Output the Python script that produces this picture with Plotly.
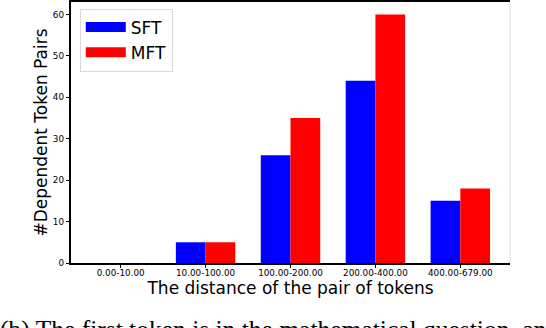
import plotly.graph_objects as go

bins = ["0.00-10.00", "10.00-100.00", "100.00-200.00", "200.00-400.00", "400.00-679.00"]
sft = [0, 5, 26, 44, 15]
mft = [0, 5, 35, 60, 18]
colors = {"SFT": "#0000ff", "MFT": "#ff0000"}

fig = go.Figure()
for name, vals in [("SFT", sft), ("MFT", mft)]:
    fig.add_trace(go.Bar(x=bins, y=vals, name=name, marker_color=colors[name],
                         marker_line_width=0, showlegend=False))
    # wide flat patch in the legend, like matplotlib
    fig.add_trace(go.Scatter(x=[None], y=[None], mode="lines", name=name,
                             line=dict(color=colors[name], width=13)))

fig.update_layout(
    width=546, height=328,
    margin=dict(l=71, r=36, t=2, b=65),
    paper_bgcolor="white", plot_bgcolor="white",
    barmode="group", bargap=0.3, bargroupgap=0,
    font=dict(family="DejaVu Sans", color="black"),
    legend=dict(x=0.02, y=0.975, xanchor="left", yanchor="top",
                bgcolor="white", bordercolor="#d9d9d9", borderwidth=1,
                font=dict(size=17), itemwidth=40, tracegroupgap=4),
)
fig.update_xaxes(
    automargin=False,
    showline=True, linecolor="black", linewidth=1.5, mirror=True,
    ticks="outside", ticklen=3.5, tickcolor="black", tickfont=dict(size=8.8),
    ticklabelstandoff=-3,
    range=[-0.585, 4.585],
    title=dict(text="The distance of the pair of tokens", font=dict(size=17), standoff=0),
)
fig.update_yaxes(
    automargin=False,
    showline=True, linecolor="black", linewidth=1.5,
    ticks="outside", ticklen=3.5, tickcolor="black", tickfont=dict(size=8.8),
    range=[0, 63], tickvals=[0, 10, 20, 30, 40, 50, 60], showgrid=False, zeroline=False,
    title=dict(text="#Dependent Token Pairs", font=dict(size=17), standoff=1),
)
fig.add_shape(type="line", xref="paper", yref="paper", x0=1, x1=1, y0=0, y1=1,
              line=dict(color="#eeeeee", width=2))
fig.add_annotation(text="(b) The first token is in the mathematical question, and the",
                   xref="paper", yref="paper", x=-73/439, y=-0.19, xanchor="left", yanchor="top",
                   showarrow=False, font=dict(family="Liberation Serif", size=25.5))

fig.write_html("out.html", config={"displayModeBar": False},
               post_script="document.body.style.margin='0';")
